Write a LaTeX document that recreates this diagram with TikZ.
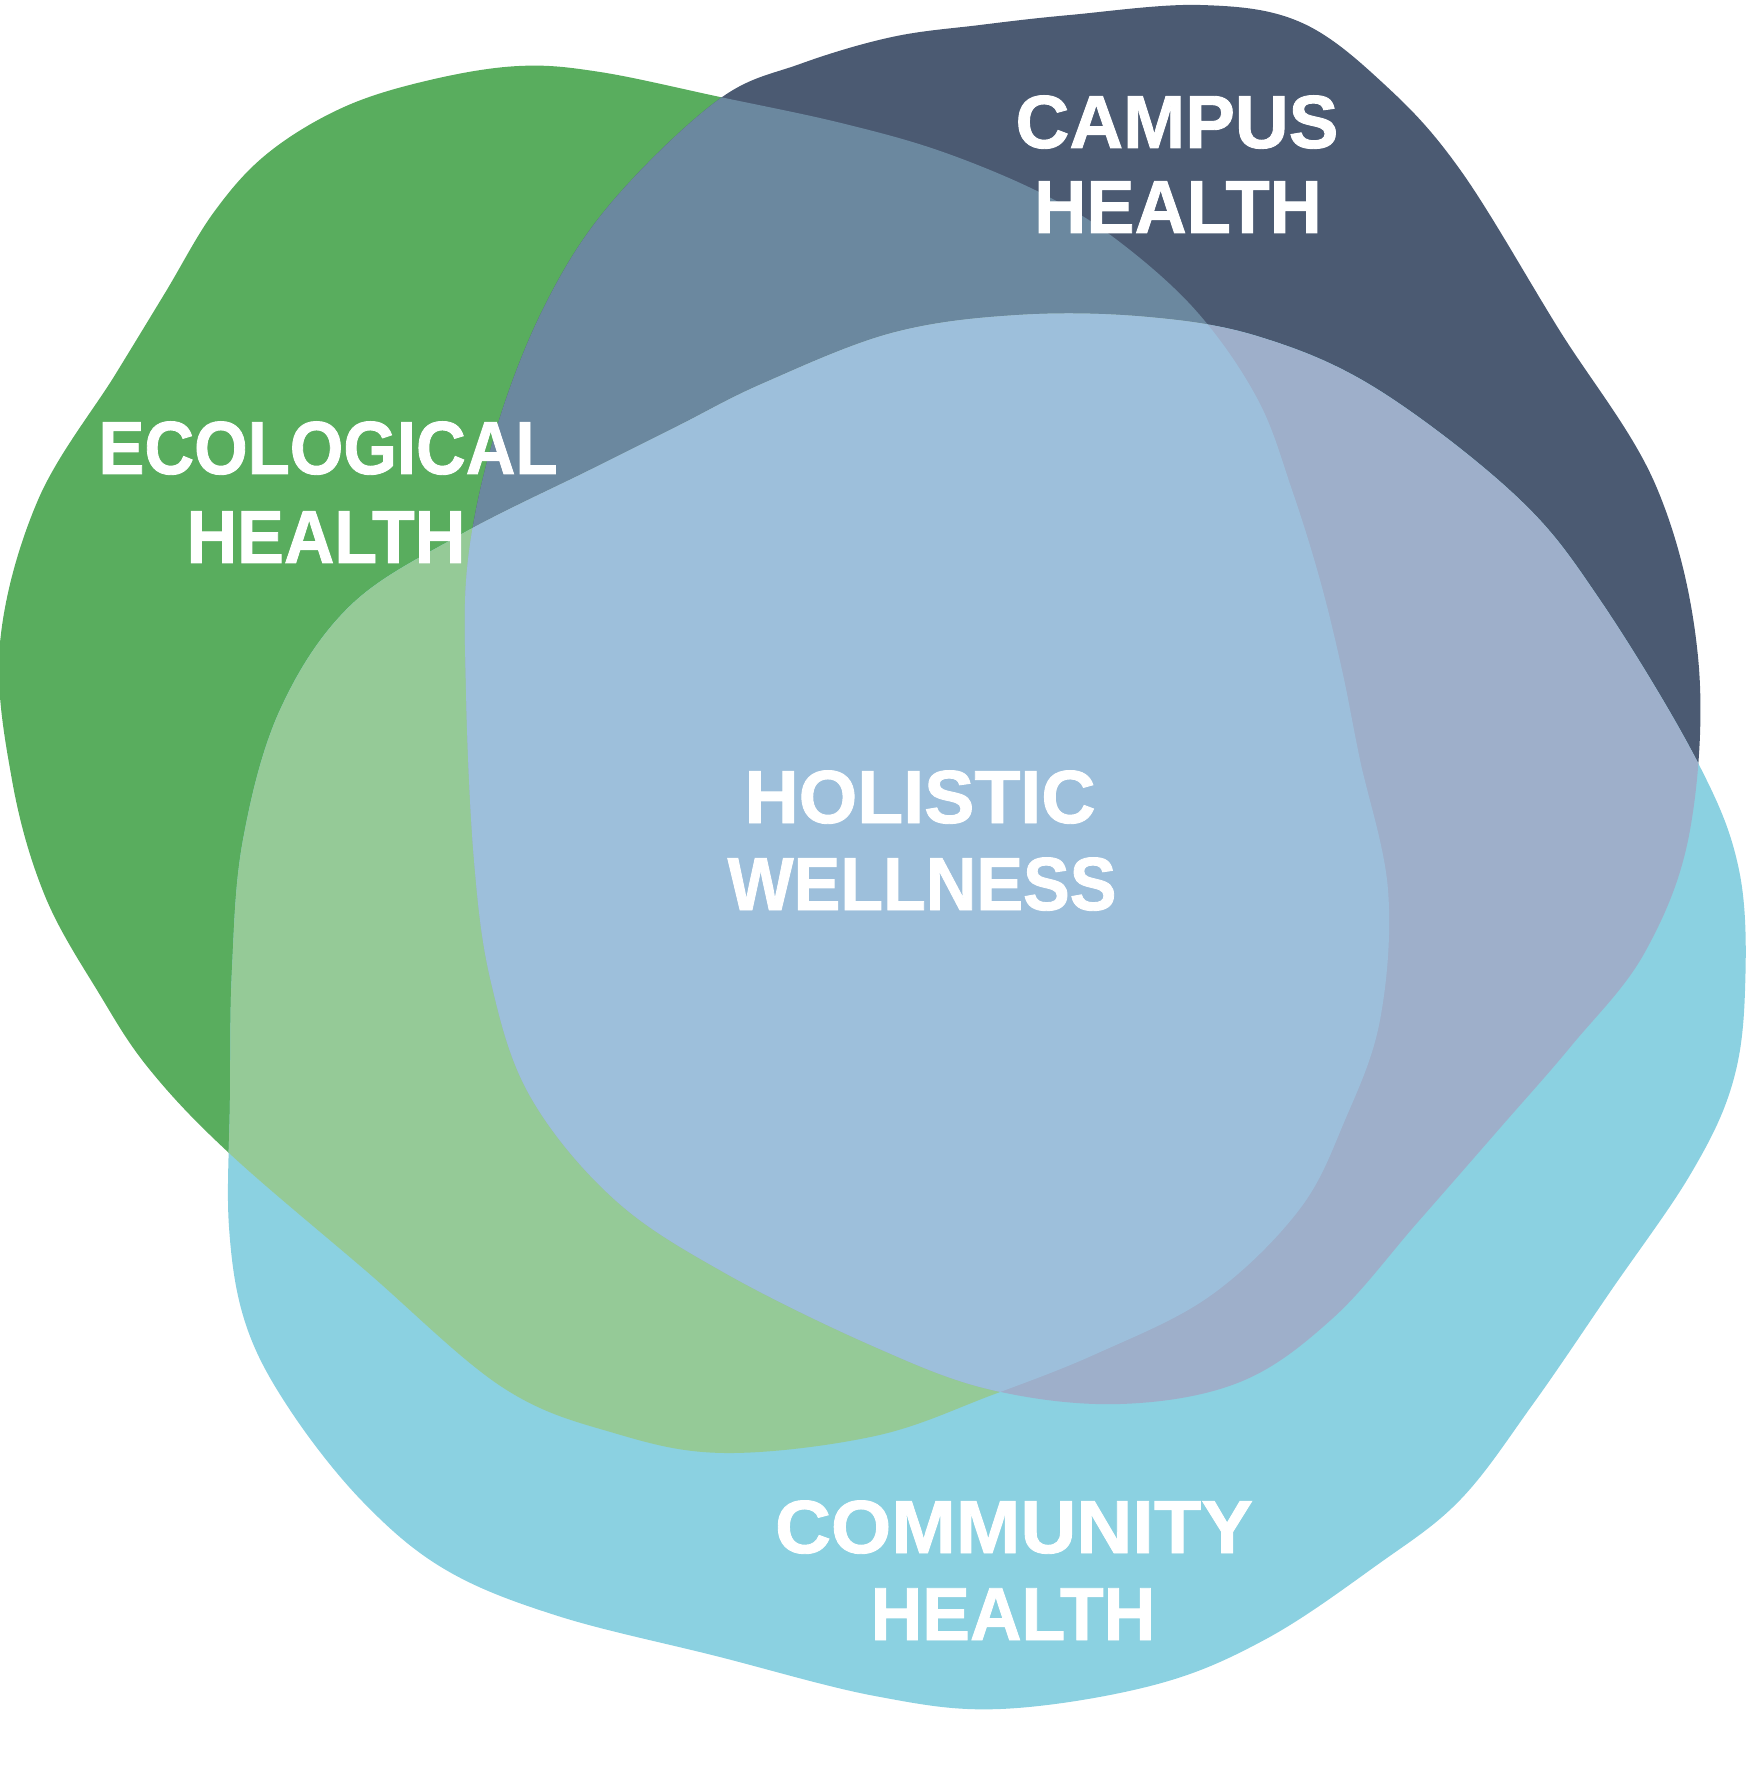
\documentclass[tikz,border=0pt]{standalone}
\usepackage{fontspec}
\usepackage{graphicx}
\setmainfont{Liberation Sans}
\newfontfamily\lblfont{Liberation Sans}[UprightFont={* Bold}, FakeBold=1.2]
\definecolor{cG}{HTML}{59AD5E}
\definecolor{cN}{HTML}{4B5A72}
\definecolor{cC}{HTML}{8BD1E1}
\definecolor{cGN}{HTML}{6B889F}
\definecolor{cGC}{HTML}{95CA97}
\definecolor{cNC}{HTML}{9EAFCA}
\definecolor{cGNC}{HTML}{9DBFDB}
\newcommand\sx[2]{\scalebox{#1}[1]{#2}}
\tikzset{lbl/.style={text=white, inner sep=0pt, anchor=base, font=\lblfont\fontsize{21.4pt}{21.4pt}\selectfont}}
\def\pG{plot[smooth cycle, tension=0.6] coordinates {(519,66) (600,72) (720,97) (841,123) (943,152) (1045,195) (1121,243) (1198,313) (1258,400) (1292,490) (1320,580) (1342,670) (1360,760) (1388,890) (1380,1020) (1345,1120) (1299,1210) (1210,1296) (1098,1353) (992,1395) (875,1436) (725,1453) (614,1433) (502,1387) (365,1270) (229,1153) (150,1070) (100,995) (45,896) (12,780) (0,643) (38,500) (115,375) (165,293) (214,212) (268,153) (344,107) (430,80)}}
\def\pN{plot[smooth cycle, tension=0.6] coordinates {(718,100) (800,64) (892,37) (980,25) (1070,15) (1200,5) (1300,22) (1385,85) (1461,171) (1558,328) (1656,486) (1698,657) (1690,830) (1645,952) (1572,1045) (1500,1128) (1417,1223) (1333,1318) (1240,1382) (1120,1404) (992,1390) (875,1347) (725,1273) (614,1199) (530,1096) (491,982) (474,860) (466,690) (468,560) (496,430) (545,305) (611,203)}}
\def\pC{plot[smooth cycle, tension=0.6] coordinates {(1019,315) (1147,317) (1260,337) (1377,389) (1517,497) (1600,600) (1697,761) (1739,870) (1745,990) (1732,1085) (1690,1175) (1610,1292) (1533,1404) (1460,1500) (1377,1565) (1266,1639) (1154,1685) (1000,1709) (875,1696) (716,1656) (558,1616) (446,1570) (363,1502) (290,1410) (246,1325) (229,1227) (230,1100) (232,970) (243,840) (280,710) (350,606) (460,535) (592,469) (678,426) (764,383) (892,333)}}
\begin{document}
\begin{tikzpicture}[x=0.01cm, y=-0.01cm]
\useasboundingbox (0,0) rectangle (1750,1792);
\fill[cG] \pG;
\fill[cN] \pN;
\fill[cC] \pC;
\begin{scope}\clip \pG; \fill[cGN] \pN; \end{scope}
\begin{scope}\clip \pG; \fill[cGC] \pC; \end{scope}
\begin{scope}\clip \pN; \fill[cNC] \pC; \end{scope}
\begin{scope}\clip \pG; \clip \pN; \fill[cGNC] \pC; \end{scope}
\node[lbl] (eco1) at (328,474) {\sx{0.915}{ECOLOGICAL}};
\node[lbl] (eco2) at (326,563) {\sx{0.93}{HEALTH}};
\node[lbl] (cam1) at (1177,148) {\sx{0.99}{CAMPUS}};
\node[lbl] (cam2) at (1178,233) {\sx{0.96}{HEALTH}};
\node[lbl] (hol1) at (920,823) {HOLISTIC};
\node[lbl] (hol2) at (922,910) {\sx{0.93}{WELLNESS}};
\node[lbl] (com1) at (1014,1553) {\sx{1.03}{COMMUNITY}};
\node[lbl] (com2) at (1013,1640) {\sx{0.95}{HEALTH}};
\end{tikzpicture}
\end{document}
